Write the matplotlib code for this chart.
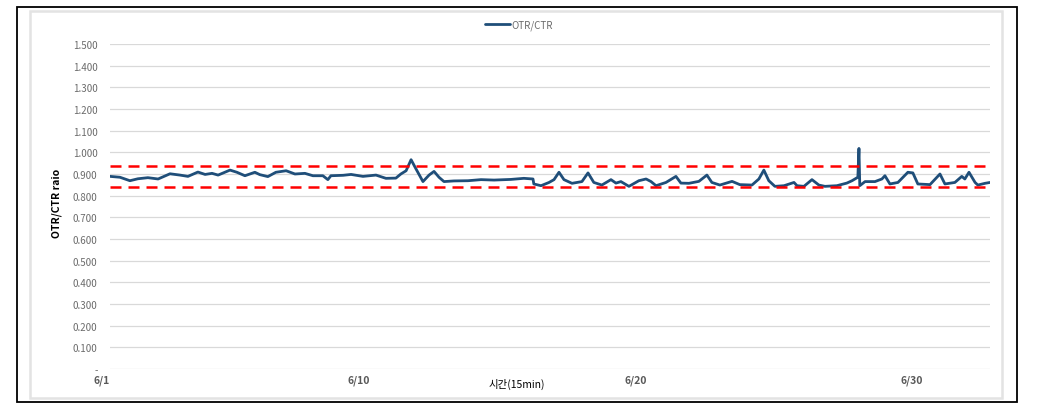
import matplotlib.pyplot as plt
from matplotlib.patches import Rectangle
from matplotlib.ticker import FuncFormatter

plt.rcParams['font.family'] = ['Noto Sans CJK KR', 'DejaVu Sans']

# 시간 (6/1 기준 일수) 및 OTR/CTR 비율 - 그림에서 읽은 값
days = [0.00, 0.36, 0.72, 1.01, 1.37, 1.74, 2.17, 2.53, 2.82, 3.18, 3.44, 3.69, 3.91,
        4.34, 4.59, 4.88, 5.24, 5.42, 5.71, 6.00, 6.37, 6.69, 7.05, 7.34, 7.70, 7.88,
        7.99, 8.43, 8.72, 9.15, 9.62, 9.98, 10.34, 10.52, 10.71, 10.89, 11.07, 11.32,
        11.54, 11.72, 11.90, 12.08, 12.44, 12.95, 13.42, 13.89, 14.50, 14.97, 15.30,
        15.33, 15.59, 15.88, 16.06, 16.24, 16.42, 16.71, 17.07, 17.29, 17.50, 17.79,
        18.12, 18.30, 18.48, 18.77, 19.13, 19.39, 19.57, 19.75, 20.11, 20.47, 20.65,
        20.94, 21.30, 21.59, 21.77, 22.06, 22.50, 22.78, 23.22, 23.47, 23.65, 23.83,
        24.05, 24.38, 24.74, 24.85, 25.10, 25.39, 25.64, 25.86, 26.29, 26.65, 26.84,
        27.05, 27.09, 27.12, 27.31, 27.67, 27.92, 28.03, 28.21, 28.50, 28.86, 29.04,
        29.22, 29.66, 30.02, 30.20, 30.56, 30.81, 30.92, 31.07, 31.29, 31.39, 31.65,
        31.83]
ratio = [0.889, 0.885, 0.869, 0.878, 0.883, 0.877, 0.901, 0.895, 0.889, 0.909, 0.898,
         0.903, 0.895, 0.918, 0.908, 0.892, 0.908, 0.897, 0.888, 0.908, 0.915, 0.900,
         0.903, 0.892, 0.892, 0.874, 0.892, 0.894, 0.898, 0.889, 0.895, 0.880, 0.881,
         0.900, 0.915, 0.966, 0.923, 0.865, 0.895, 0.912, 0.885, 0.865, 0.868, 0.869,
         0.874, 0.872, 0.875, 0.880, 0.877, 0.854, 0.846, 0.861, 0.874, 0.908, 0.874,
         0.857, 0.865, 0.905, 0.861, 0.849, 0.874, 0.858, 0.865, 0.843, 0.869, 0.877,
         0.865, 0.846, 0.861, 0.889, 0.858, 0.857, 0.866, 0.895, 0.861, 0.849, 0.866,
         0.851, 0.849, 0.877, 0.918, 0.869, 0.843, 0.846, 0.861, 0.846, 0.843, 0.874,
         0.849, 0.843, 0.846, 0.858, 0.869, 0.885, 1.018, 0.846, 0.865, 0.865, 0.877,
         0.892, 0.854, 0.861, 0.908, 0.905, 0.854, 0.851, 0.900, 0.854, 0.861, 0.889,
         0.877, 0.908, 0.861, 0.849, 0.857, 0.861]

upper_limit = 0.935
lower_limit = 0.842

tick_days = [0, 9, 19, 29]
tick_labels = ['6/1', '6/10', '6/20', '6/30']
y_ticks = [i / 10 for i in range(16)]

fig = plt.figure(figsize=(10.39, 4.10), dpi=100)

# 바깥 테두리
fig.patches.append(Rectangle((17 / 1039, 1 - 403 / 410), 1000 / 1039, 395 / 410,
                             transform=fig.transFigure, fill=False,
                             edgecolor='black', linewidth=1.3))
fig.patches.append(Rectangle((30 / 1039, 1 - 399 / 410), 972 / 1039, 387 / 410,
                             transform=fig.transFigure, fill=False,
                             edgecolor='#E3E3E3', linewidth=1.8))

ax = fig.add_axes([110 / 1039, 40 / 410, 880 / 1039, 325 / 410])

ax.plot(days, ratio, color='#1F4E79', linewidth=2.0, label='OTR/CTR', zorder=3,
        solid_joinstyle='round', solid_capstyle='round')
ax.axhline(upper_limit, color='#FF0000', linewidth=1.8, dashes=(4.4, 2.8), zorder=4)
ax.axhline(lower_limit, color='#FF0000', linewidth=1.8, dashes=(4.4, 2.8), zorder=4)

ax.set_xlim(0, 31.83)
ax.set_ylim(0, 1.5)
ax.set_yticks(y_ticks)
ax.yaxis.set_major_formatter(FuncFormatter(lambda v, p: '-' if v == 0 else f'{v:.3f}'))
ax.grid(axis='y', color='#D9D9D9', linewidth=0.9)
ax.set_axisbelow(True)
for s in ax.spines.values():
    s.set_visible(False)
ax.tick_params(axis='y', length=0, pad=9, labelsize=7, labelcolor='#6B6B6B')

ax.set_xticks(tick_days)
ax.set_xticklabels(tick_labels, fontsize=7.5, fontweight='bold', color='#595959')
ax.tick_params(axis='x', length=0, pad=4)
ax.get_xticklabels()[0].set_horizontalalignment('right')

fig.text(517 / 1039, 1 - 384 / 410, '시간(15min)', ha='center', va='center',
         fontsize=7.5, color='black')
fig.text(57 / 1039, 1 - 203 / 410, 'OTR/CTR raio', ha='center', va='center',
         rotation=90, fontsize=7.5, fontweight='bold', color='black')

leg = ax.legend(loc='center', bbox_to_anchor=(519 / 1039, 1 - 26 / 410),
                bbox_transform=fig.transFigure, frameon=False, fontsize=7,
                handlelength=2.6, handletextpad=0.1, labelcolor='#6B6B6B')

fig.savefig('out.png', dpi=100)
